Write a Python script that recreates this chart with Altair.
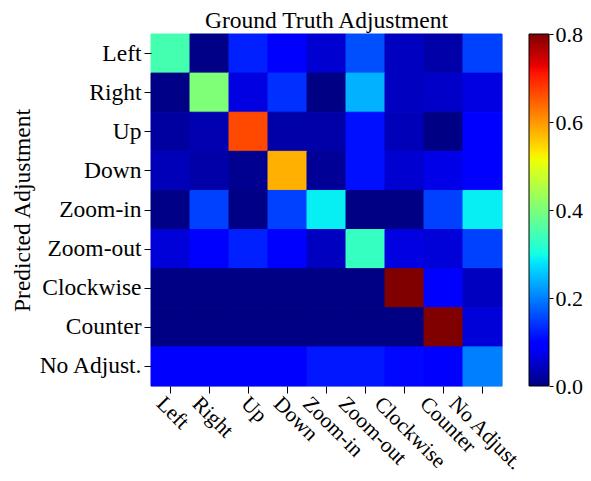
import altair as alt
import pandas as pd

classes = ["Left", "Right", "Up", "Down", "Zoom-in", "Zoom-out", "Clockwise", "Counter", "No Adjust."]

# rows = predicted adjustment, columns = ground truth adjustment
row_left      = [0.348, 0.005, 0.125, 0.096, 0.056, 0.162, 0.045, 0.028, 0.150]
row_right     = [0.005, 0.404, 0.067, 0.138, 0.003, 0.240, 0.045, 0.050, 0.067]
row_up        = [0.022, 0.033, 0.667, 0.028, 0.028, 0.112, 0.039, 0.003, 0.100]
row_down      = [0.039, 0.028, 0.011, 0.579, 0.015, 0.112, 0.056, 0.072, 0.095]
row_zoomin    = [0.005, 0.150, 0.005, 0.150, 0.288, 0.003, 0.003, 0.150, 0.288]
row_zoomout   = [0.061, 0.090, 0.125, 0.095, 0.045, 0.332, 0.067, 0.061, 0.150]
row_clockwise = [0.003, 0.003, 0.003, 0.003, 0.003, 0.003, 0.800, 0.095, 0.045]
row_counter   = [0.003, 0.003, 0.003, 0.003, 0.003, 0.003, 0.003, 0.800, 0.061]
row_noadjust  = [0.100, 0.100, 0.100, 0.100, 0.118, 0.118, 0.105, 0.100, 0.200]
matrix = [row_left, row_right, row_up, row_down, row_zoomin, row_zoomout,
          row_clockwise, row_counter, row_noadjust]

cbar_ticks = [0.0, 0.2, 0.4, 0.6, 0.8]
vmin, vmax = 0.0, 0.8

# jet colormap key points
jet_t = [0.0, 0.11, 0.125, 0.34, 0.35, 0.375, 0.64, 0.65, 0.66, 0.89, 0.91, 1.0]
jet_c = ["#000080", "#0000ff", "#0000ff", "#00dbff", "#00e5ff", "#14ffe2",
         "#eeff08", "#f7f500", "#ffec00", "#ff1300", "#e80000", "#800000"]
jet_domain = [vmin + t * (vmax - vmin) for t in jet_t]

rows = []
for i, p in enumerate(classes):
    for j, g in enumerate(classes):
        rows.append({"pred": p, "truth": g, "value": matrix[i][j]})
df = pd.DataFrame(rows)
lab_df = pd.DataFrame({"truth": classes})
cb_df = pd.DataFrame({"lo": [vmin], "hi": [vmax]})

W, H = 351, 352
FONT = "Liberation Serif"
FS = 23.5
XFS = 21.5

jet_scale = alt.Scale(domain=jet_domain, range=jet_c, interpolate="rgb", clamp=True)

heat = alt.Chart(df).mark_rect(strokeWidth=1).encode(
    x=alt.X("truth:N", sort=classes,
            scale=alt.Scale(paddingInner=0, paddingOuter=0),
            axis=alt.Axis(orient="bottom", labels=False, title=None, ticks=True,
                          tickSize=7, tickColor="black", tickWidth=1,
                          domain=False, grid=False)),
    y=alt.Y("pred:N", sort=classes,
            scale=alt.Scale(paddingInner=0, paddingOuter=0),
            axis=alt.Axis(orient="left", title="Predicted Adjustment",
                          titleFont=FONT, titleFontSize=FS, titleFontWeight="normal",
                          titleColor="black", titleX=-122, titleY=H / 2,
                          titleBaseline="alphabetic", titleAlign="center",
                          labelFont=FONT, labelFontSize=FS, labelColor="black",
                          labelPadding=3, tickSize=7, tickColor="black", tickWidth=1,
                          domain=False, grid=False)),
    color=alt.Color("value:Q", scale=jet_scale, legend=None),
    stroke=alt.Stroke("value:Q", scale=jet_scale, legend=None),
)

xlab = alt.Chart(lab_df).mark_text(
    angle=45, align="left", baseline="alphabetic", font=FONT, fontSize=XFS,
    color="black",
    dx=alt.ExprRef(expr="-2.29*length(datum.truth) - 1.5"),
    dy=alt.ExprRef(expr="2.29*length(datum.truth) + 1.5"),
).encode(
    x=alt.X("truth:N", sort=classes),
    y=alt.value(H + 19),
    text="truth:N",
)

grad = alt.LinearGradient(
    gradient="linear",
    stops=[alt.GradientStop(offset=t, color=c) for t, c in zip(jet_t, jet_c)],
    x1=0, x2=0, y1=1, y2=0,
)

cbar = alt.Chart(cb_df).mark_rect(fill=grad, stroke="black", strokeWidth=1).encode(
    x=alt.value(378), x2=alt.value(398),
    y=alt.Y("lo:Q", scale=alt.Scale(domain=[vmin, vmax], nice=False, zero=False),
            axis=alt.Axis(orient="right", offset=47, values=cbar_ticks, format=".1f",
                          tickSize=4, tickColor="black", tickWidth=1, labelPadding=2,
                          labelFont=FONT, labelFontSize=22, labelColor="black",
                          domain=False, grid=False, title=None)),
    y2="hi:Q",
)

chart = alt.layer(heat, xlab, cbar).resolve_scale(
    y="independent"
).resolve_axis(
    y="independent"
).properties(
    width=W, height=H,
    title=alt.Title("Ground Truth Adjustment", font=FONT, fontSize=FS,
                    fontWeight="normal", color="black", offset=0, dy=9,
                    anchor="middle", frame="group"),
    autosize=alt.AutoSizeParams(type="none"),
    padding={"left": 143, "top": 26, "right": 81, "bottom": 87},
).configure_view(
    stroke="black", strokeWidth=1
).configure(background="white")

chart.save("out.html", embed_options={"renderer": "svg", "actions": False})
